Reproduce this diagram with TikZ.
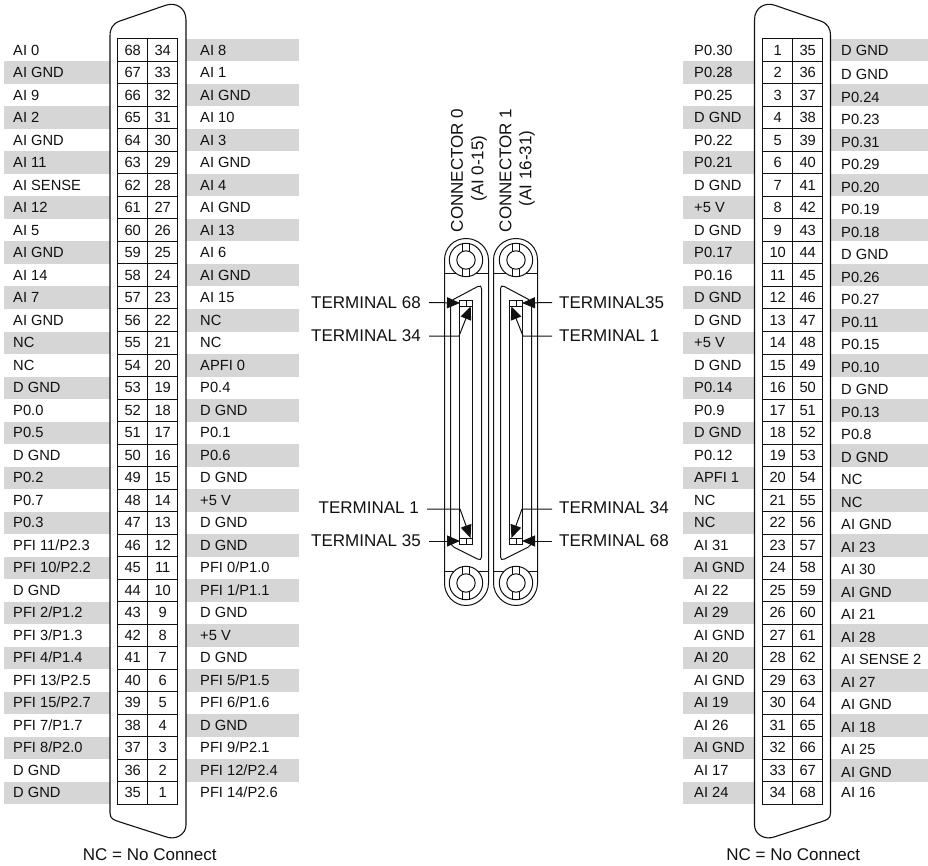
\documentclass[tikz,border=0pt]{standalone}
\usepackage{fontspec}
\setmainfont{Liberation Sans}
\usetikzlibrary{arrows.meta}
\definecolor{bar}{HTML}{D6D6D6}
\definecolor{ink}{HTML}{111111}
\newcommand{\shellpath}{(110,36) .. controls (110,28) and (113,23.5) .. (120,21) -- (165,5.5) .. controls (176,1.5) and (186,8) .. (186,20) -- (186,825) .. controls (186,834) and (176,841) .. (165,836.5) -- (120,822) .. controls (114,820) and (110,819) .. (110,813) -- cycle}
\newcommand{\plugbody}{%
  \draw[plugline] (444.5,260) .. controls (444.5,247.85) and (453.85,238.5) .. (466,238.5) .. controls (478.15,238.5) and (488.5,247.85) .. (488.5,260) -- (488.5,583) .. controls (488.5,595.15) and (478.15,605.5) .. (466,605.5) .. controls (453.85,605.5) and (444.5,595.15) .. (444.5,583) -- cycle;
  \draw[plugline] (444.5,273.5) -- (488.5,273.5) (444.5,571.5) -- (488.5,571.5);
  \foreach \cy in {260,583}{
    \draw[plugline,fill=white] (466,\cy) circle[radius=16.7pt];
    \draw[plugline] (466,\cy) circle[radius=9.2pt];
    \draw[plugline] (462.7,\cy-16.4) -- (462.7,\cy-8.6) (469.3,\cy-16.4) -- (469.3,\cy-8.6)
                    (462.7,\cy+16.4) -- (462.7,\cy+8.6) (469.3,\cy+16.4) -- (469.3,\cy+8.6);
  }
  \draw[plugline,rounded corners=4pt] (450.5,301) -- (481.5,284.5) -- (481.5,561) -- (450.5,545.5) -- cycle;
  \draw[plugline] (459.5,300.5) rectangle (472.5,544.5);
  \draw[plugline] (459.5,306.5) -- (472.5,306.5) (466,300.5) -- (466,306.5) (459.5,538.5) -- (472.5,538.5) (466,538.5) -- (466,544.5);
}
\tikzset{
  pinlabel/.style={anchor=base west,inner sep=0pt,text=ink,font=\fontsize{14.7}{16}\selectfont},
  pincell/.style={draw=ink,line width=1pt,minimum width=30pt,minimum height=22.5pt,inner sep=0pt,text=ink,font=\fontsize{14.7}{16}\selectfont},
  shell/.style={draw=ink,line width=1.1pt},
  plugline/.style={draw=ink,line width=1pt},
  termlabel/.style={inner sep=0pt,text=ink,font=\fontsize{17}{19}\selectfont},
  termtext/.style={anchor=east,inner xsep=8pt,inner ysep=0pt,text=ink,font=\fontsize{17}{19}\selectfont},
  termtextr/.style={anchor=west,inner xsep=7pt,inner ysep=0pt,text=ink,font=\fontsize{17}{19}\selectfont},
  termarrow/.style={draw=ink,line width=1pt,-{Triangle[length=13pt,width=11pt]}},
}
\begin{document}
\begin{tikzpicture}[x=1pt,y=-1pt]
\useasboundingbox (0,0) rectangle (928,866);
% grey bars
\foreach \i in {2,4,...,34}{
  \fill[bar] (4,39+22.5*\i-22.5) rectangle (110,39+22.5*\i);
  \fill[bar] (683,39+22.5*\i-22.5) rectangle (754,39+22.5*\i);
}
\foreach \i in {1,3,...,33}{
  \fill[bar] (186,39+22.5*\i-22.5) rectangle (299,39+22.5*\i);
  \fill[bar] (831,39+22.5*\i-22.5) rectangle (928,39+22.5*\i);
}
% shells
\draw[shell] \shellpath;
\begin{scope}[shift={(940.5,0)},xscale=-1]
  \draw[shell] \shellpath;
\end{scope}
% pin cells
\foreach \i in {1,...,34}{
  \pgfmathsetmacro{\ry}{39+22.5*(\i-0.5)}
  \pgfmathtruncatemacro{\na}{69-\i}
  \pgfmathtruncatemacro{\nb}{35-\i}
  \pgfmathtruncatemacro{\nc}{34+\i}
  \node[pincell] (la\i) at (132.7,\ry) {\na};
  \node[pincell] (lb\i) at (162.7,\ry) {\nb};
  \node[pincell] (ra\i) at (777.7,\ry) {\i};
  \node[pincell] (rb\i) at (807.7,\ry) {\nc};
}
% connector 0, left column
\foreach \t [count=\i] in {AI 0,AI GND,AI 9,AI 2,AI GND,AI 11,AI SENSE,AI 12,AI 5,AI GND,AI 14,AI 7,AI GND,NC,NC,D GND,P0.0,P0.5,D GND,P0.2,P0.7,P0.3,PFI 11/P2.3,PFI 10/P2.2,D GND,PFI 2/P1.2,PFI 3/P1.3,PFI 4/P1.4,PFI 13/P2.5,PFI 15/P2.7,PFI 7/P1.7,PFI 8/P2.0,D GND,D GND}{
  \node[pinlabel] (lla\i) at (13,39+22.5*\i-11.25+5) {\t};
}
% connector 0, right column
\foreach \t [count=\i] in {AI 8,AI 1,AI GND,AI 10,AI 3,AI GND,AI 4,AI GND,AI 13,AI 6,AI GND,AI 15,NC,NC,APFI 0,P0.4,D GND,P0.1,P0.6,D GND,+5 V,D GND,D GND,PFI 0/P1.0,PFI 1/P1.1,D GND,+5 V,D GND,PFI 5/P1.5,PFI 6/P1.6,D GND,PFI 9/P2.1,PFI 12/P2.4,PFI 14/P2.6}{
  \node[pinlabel] (llb\i) at (200,39+22.5*\i-11.25+5) {\t};
}
% connector 1, left column
\foreach \t [count=\i] in {P0.30,P0.28,P0.25,D GND,P0.22,P0.21,D GND,+5 V,D GND,P0.17,P0.16,D GND,D GND,+5 V,D GND,P0.14,P0.9,D GND,P0.12,APFI 1,NC,NC,AI 31,AI GND,AI 22,AI 29,AI GND,AI 20,AI GND,AI 19,AI 26,AI GND,AI 17,AI 24}{
  \node[pinlabel] (rla\i) at (694,39+22.5*\i-11.25+5) {\t};
}
% connector 1, right column
\foreach \t [count=\i] in {D GND,D GND,P0.24,P0.23,P0.31,P0.29,P0.20,P0.19,P0.18,D GND,P0.26,P0.27,P0.11,P0.15,P0.10,D GND,P0.13,P0.8,D GND,NC,NC,AI GND,AI 23,AI 30,AI GND,AI 21,AI 28,AI SENSE 2,AI 27,AI GND,AI 18,AI 25,AI GND,AI 16}{
  \pgfmathsetmacro{\dy}{(\i==1||\i==34)?0:1.8}
  \node[pinlabel] (rlb\i) at (841,39+22.5*\i-11.25+5+\dy) {\t};
}
% footers
\node[termlabel] (ncl) at (149.8,855) {NC = No Connect};
\node[termlabel] (ncr) at (793.3,855) {NC = No Connect};
% centre connectors
\plugbody
\begin{scope}[shift={(982,0)},xscale=-1]
  \plugbody
\end{scope}
% rotated captions
\node[termlabel,rotate=90] (c0) at (457,170.5) {CONNECTOR 0};
\node[termlabel,rotate=90] (c0s) at (479,168.5) {(AI 0-15)};
\node[termlabel,rotate=90] (c1) at (505.5,170.5) {CONNECTOR 1};
\node[termlabel,rotate=90] (c1s) at (527,168.5) {(AI 16-31)};
% terminal labels
\node[termtext] (t68) at (429,302.5) {TERMINAL 68};
\node[termtext] (t34) at (429,336) {TERMINAL 34};
\node[termtext] (t1) at (427,508) {TERMINAL 1};
\node[termtext] (t35) at (429,541) {TERMINAL 35};
\node[termtextr] (u35) at (552,302.5) {TERMINAL35};
\node[termtextr] (u1) at (552,336) {TERMINAL 1};
\node[termtextr] (u34) at (552,508) {TERMINAL 34};
\node[termtextr] (u68) at (552,541) {TERMINAL 68};
% arrow targets
\coordinate (p68) at (460,303);
\coordinate (p34) at (470.7,306.5);
\coordinate (k34) at (459,336);
\coordinate (p1) at (470.5,538);
\coordinate (k1) at (460,509);
\coordinate (p35) at (460,541);
\coordinate (q35) at (522,303);
\coordinate (q1) at (511.3,306.5);
\coordinate (j1) at (523,336);
\coordinate (q34) at (511.5,538);
\coordinate (j34) at (522,509);
\coordinate (q68) at (522,541);
\draw[termarrow] (t68.east) -- (p68);
\draw[termarrow] (t34.east) -- (k34) -- (p34);
\draw[termarrow] (t1.east |- k1) -- (k1) -- (p1);
\draw[termarrow] (t35.east) -- (p35);
\draw[termarrow] (u35.west) -- (q35);
\draw[termarrow] (u1.west) -- (j1) -- (q1);
\draw[termarrow] (u34.west |- j34) -- (j34) -- (q34);
\draw[termarrow] (u68.west) -- (q68);
\end{tikzpicture}
\end{document}
